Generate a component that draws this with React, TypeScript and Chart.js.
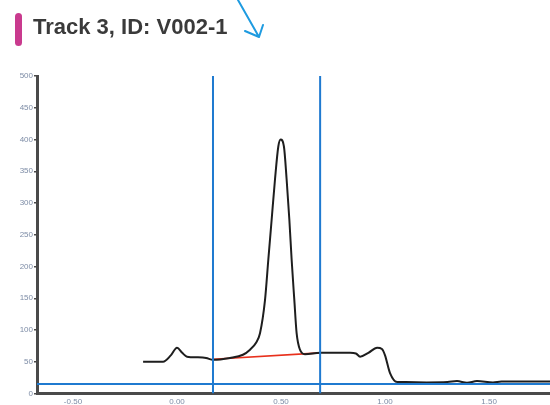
import React, { useEffect, useRef } from "react";
import { Chart, registerables } from "chart.js";

Chart.register(...registerables);

const TITLE = "Track 3, ID: V002-1";

const traceX = [-0.163, -0.067, -0.03, 0.0, 0.025, 0.048, 0.1, 0.14, 0.173, 0.255, 0.317, 0.351, 0.38, 0.399, 0.423, 0.439, 0.455, 0.471, 0.487, 0.498, 0.514, 0.527, 0.54, 0.551, 0.564, 0.575, 0.591, 0.615, 0.688, 0.78, 0.832, 0.86, 0.88, 0.92, 0.962, 0.985, 1.0, 1.024, 1.058, 1.1, 1.2, 1.3, 1.346, 1.394, 1.442, 1.519, 1.56, 1.65, 1.793];
const traceY = [50, 50, 60, 72, 64, 58, 57, 56, 53, 56, 61, 69, 80, 95, 147, 211, 274, 337, 389, 400, 389, 337, 274, 211, 147, 95, 69, 62, 64, 64, 64, 63, 58, 64, 72, 70, 60, 32, 18, 18, 17.5, 18, 19.5, 17, 19.5, 17.5, 19, 19, 19];

const baselineX = [0.173, 0.688];
const baselineY = [54, 64];

const markerLinesX = [0.173, 0.688];
const thresholdY = 15;

const xMin = -0.673;
const xMax = 1.793;
const yMin = 0;
const yMax = 500;
const xTicks = [-0.5, 0, 0.5, 1.0, 1.5];
const yTicks = [0, 50, 100, 150, 200, 250, 300, 350, 400, 450, 500];

export default function App() {
  const canvasRef = useRef<HTMLCanvasElement | null>(null);

  useEffect(() => {
    document.body.style.margin = "0";
    const canvas = canvasRef.current;
    if (!canvas) return;
    const blue = "#1f7ad0";
    const datasets: any[] = [
      {
        label: "threshold",
        data: [{ x: xMin, y: thresholdY }, { x: xMax, y: thresholdY }],
        borderColor: blue,
        borderWidth: 2,
        pointRadius: 0,
      },
      ...markerLinesX.map((mx) => ({
        label: "marker",
        data: [{ x: mx, y: yMin }, { x: mx, y: yMax }],
        borderColor: blue,
        borderWidth: 2,
        pointRadius: 0,
      })),
      {
        label: "trace",
        data: traceX.map((x, i) => ({ x, y: traceY[i] })),
        borderColor: "#1e1e1e",
        borderWidth: 2,
        pointRadius: 0,
        cubicInterpolationMode: "monotone",
      },
      {
        label: "baseline",
        data: baselineX.map((x, i) => ({ x, y: baselineY[i] })),
        borderColor: "#e8301c",
        borderWidth: 1.6,
        pointRadius: 0,
      },
    ];
    const chart = new Chart(canvas, {
      type: "line",
      data: { datasets },
      options: {
        animation: false,
        responsive: false,
        maintainAspectRatio: false,
        layout: { padding: { top: 76, right: 0, left: 0, bottom: 0 } },
        plugins: { legend: { display: false }, tooltip: { enabled: false } },
        scales: {
          x: {
            type: "linear",
            min: xMin,
            max: xMax,
            afterBuildTicks: (s: any) => {
              s.ticks = xTicks.map((v) => ({ value: v }));
            },
            afterFit: (s: any) => {
              s.height = 11.5;
            },
            grid: { drawOnChartArea: false, drawTicks: false },
            border: { color: "#4a4a4a", width: 3 },
            ticks: {
              padding: 3,
              color: "#7d8ca6",
              font: { size: 8, family: "Liberation Sans" },
              callback: (v: any) => Number(v).toFixed(2),
            },
          },
          y: {
            type: "linear",
            min: yMin,
            max: yMax,
            afterBuildTicks: (s: any) => {
              s.ticks = yTicks.map((v) => ({ value: v }));
            },
            afterFit: (s: any) => {
              s.width = 37;
            },
            grid: { drawOnChartArea: false, drawTicks: true, tickLength: 3, color: "#4a4a4a", lineWidth: 1.5 },
            border: { color: "#4a4a4a", width: 3 },
            ticks: {
              padding: 1,
              color: "#7d8ca6",
              font: { size: 8, family: "Liberation Sans" },
            },
          },
        },
      } as any,
    });
    return () => chart.destroy();
  }, []);

  return (
    <div style={{ position: "relative", width: 550, height: 405, background: "#fff", overflow: "hidden" }}>
      <canvas ref={canvasRef} width={550} height={405} style={{ position: "absolute", left: 0, top: 0, width: 550, height: 405 }} />
      <div
        style={{
          position: "absolute",
          left: 15,
          top: 13,
          width: 7,
          height: 33,
          borderRadius: 4,
          background: "#c93a8e",
        }}
      />
      <div
        style={{
          position: "absolute",
          left: 33,
          top: 13,
          fontFamily: "'Liberation Sans', Arial, sans-serif",
          fontWeight: "bold",
          fontSize: 22,
          color: "#3a3a3a",
          whiteSpace: "nowrap",
          lineHeight: "28px",
        }}
      >
        {TITLE}
      </div>
      <svg width={550} height={60} style={{ position: "absolute", left: 0, top: 0 }}>
        <path d="M238 0 L259 37 M245 31 L259 37 L263 25" stroke="#1e9be0" strokeWidth={2} fill="none" strokeLinecap="round" strokeLinejoin="round" />
      </svg>
    </div>
  );
}
